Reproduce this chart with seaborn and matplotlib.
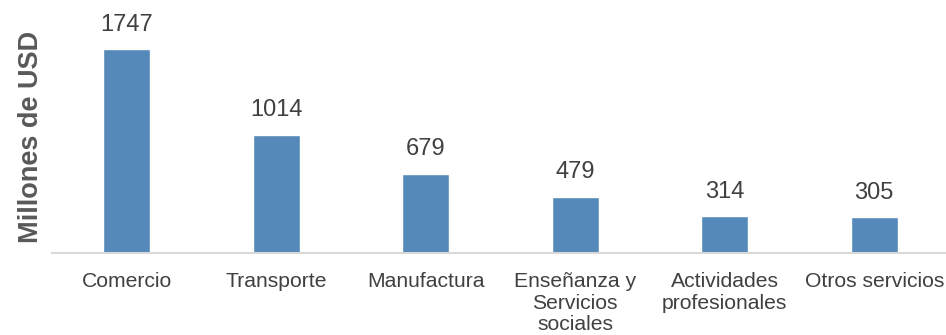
import matplotlib
matplotlib.use("Agg")
import matplotlib.pyplot as plt
import seaborn as sns
import pandas as pd

sectores = ["Comercio", "Transporte", "Manufactura",
            "Enseñanza y\nServicios\nsociales", "Actividades\nprofesionales",
            "Otros servicios"]
valores = [1747, 1014, 679, 479, 314, 305]

df = pd.DataFrame({"sector": sectores, "valor": valores})

sns.set_theme(style="white")
plt.rcParams["font.family"] = ["Liberation Sans", "DejaVu Sans"]

fig = plt.figure(figsize=(9.46, 3.35), dpi=100)
ax = fig.add_axes([52 / 946, (335 - 253) / 335, 897 / 946, 233 / 335])

sns.barplot(data=df, x="sector", y="valor", color="#5589B9", width=0.315,
            saturation=1, ax=ax)

ax.set_ylim(0, 2000)
ax.set_xlim(-0.5, len(sectores) - 0.5)
ax.set_yticks([])
ax.set_xlabel("")
ax.set_ylabel("Millones de USD", fontsize=19.5, fontweight="bold",
              color="#595959")
ax.yaxis.set_label_coords(-8 / 897, 0.5)

for s in ["top", "right", "left"]:
    ax.spines[s].set_visible(False)
ax.spines["bottom"].set_color("#D9D9D9")
ax.spines["bottom"].set_linewidth(1.5)

ax.tick_params(axis="x", length=0, pad=14, labelsize=15.2, labelcolor="#404040")
for lbl in ax.get_xticklabels():
    lbl.set_linespacing(1.15)
    lbl.set_verticalalignment("top")

for i, v in enumerate(valores):
    ax.annotate(str(v), (i, v), xytext=(0, 10), textcoords="offset points",
                ha="center", va="bottom", fontsize=17, color="#404040")

fig.savefig("out.png", dpi=100)
